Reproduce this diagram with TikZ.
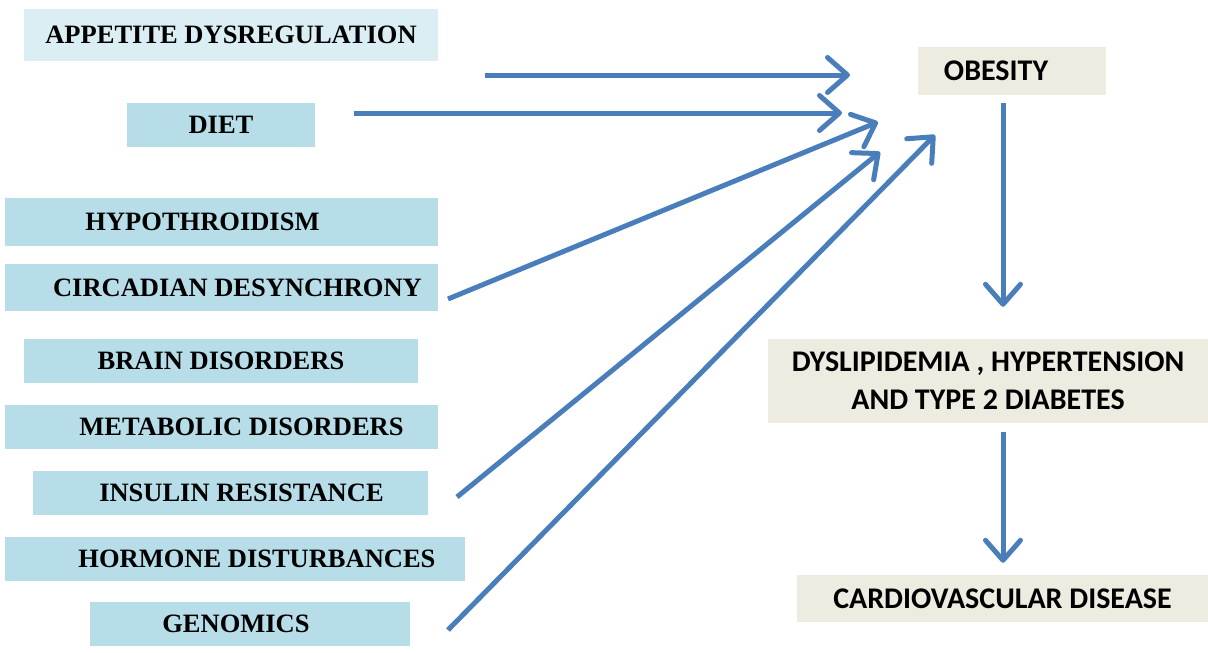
\documentclass[tikz,border=0pt]{standalone}
\usepackage{fontspec}
\usepackage{xcolor}
\usepackage{tikz}
\usetikzlibrary{positioning,arrows.meta}

\newfontfamily\causefont{Liberation Serif}
\newfontfamily\effectfont{Carlito}
\definecolor{causeblue}{HTML}{B7DDE8}
\definecolor{paleblue}{HTML}{DAEEF3}
\definecolor{effectbeige}{HTML}{EEECE1}
\definecolor{arrowblue}{HTML}{4A7EBB}

\begin{document}
\begin{tikzpicture}[
x=1pt, y=-1pt,
cause/.style={fill=causeblue, inner sep=0pt, align=center, font=\causefont\fontsize{26.5}{30}\selectfont\bfseries},
effect/.style={fill=effectbeige, inner sep=0pt, align=center, font=\effectfont\fontsize{30}{38}\selectfont\bfseries},
arrow/.style={-{Straight Barb[length=20pt, width=35pt, line cap=round, line join=round]}, line width=5pt, arrowblue}
]
\useasboundingbox (0,0) rectangle (1208,653);
% causes
\node[cause, fill=paleblue, minimum width=414pt, minimum height=52pt] (appetite) at (231,35) {\raisebox{-3pt}{APPETITE DYSREGULATION}};
\node[cause, minimum width=188pt, minimum height=44pt] (diet) at (221,125) {DIET};
\node[cause, minimum width=433pt, minimum height=48pt] (hypo) at (221.5,222) {HYPOTHROIDISM\hspace{38pt}};
\node[cause, minimum width=433pt, minimum height=47pt] (circ) at (221.5,287.5) {\hspace{32pt}CIRCADIAN DESYNCHRONY};
\node[cause, minimum width=394pt, minimum height=44pt] (brain) at (221,361) {BRAIN DISORDERS};
\node[cause, minimum width=433pt, minimum height=44pt] (meta) at (221.5,427) {\hspace{40pt}METABOLIC DISORDERS};
\node[cause, minimum width=395pt, minimum height=44pt] (insulin) at (230.5,493) {\hspace{22pt}INSULIN RESISTANCE};
\node[cause, minimum width=460pt, minimum height=44pt] (hormone) at (235,559) {\hspace{44pt}HORMONE DISTURBANCES};
\node[cause, minimum width=320pt, minimum height=44pt] (genom) at (250,624) {GENOMICS\hspace{28pt}};
% effects
\node[effect, minimum width=188pt, minimum height=48pt] (obesity) at (1012,71) {OBESITY\hspace{32pt}};
\node[effect, minimum width=440pt, minimum height=84pt] (lipid) at (988,381) {DYSLIPIDEMIA , HYPERTENSION\\AND TYPE 2 DIABETES};
\node[effect, minimum width=411pt, minimum height=47pt] (cardio) at (1002.5,598.5) {CARDIOVASCULAR DISEASE};
% arrow ends
\coordinate (a1) at (485,75);   \coordinate (b1) at (850,75);
\coordinate (a2) at (354,113);  \coordinate (b2) at (842,113);
\coordinate (a3) at (448,299);  \coordinate (b3) at (878,122);
\coordinate (a4) at (457,497);  \coordinate (b4) at (880,152);
\coordinate (a5) at (448,630);  \coordinate (b5) at (935,135);
\draw[arrow] (a1) -- (b1);
\draw[arrow] (a2) -- (b2);
\draw[arrow] (a3) -- (b3);
\draw[arrow] (a4) -- (b4);
\draw[arrow] (a5) -- (b5);
\draw[arrow] ([yshift=-8pt]obesity.south -| 1003,0) -- ([yshift=32pt]lipid.north -| 1003,0);
\draw[arrow] ([yshift=-9pt]lipid.south -| 1003,0) -- ([yshift=12pt]cardio.north -| 1003,0);
\end{tikzpicture}
\end{document}
